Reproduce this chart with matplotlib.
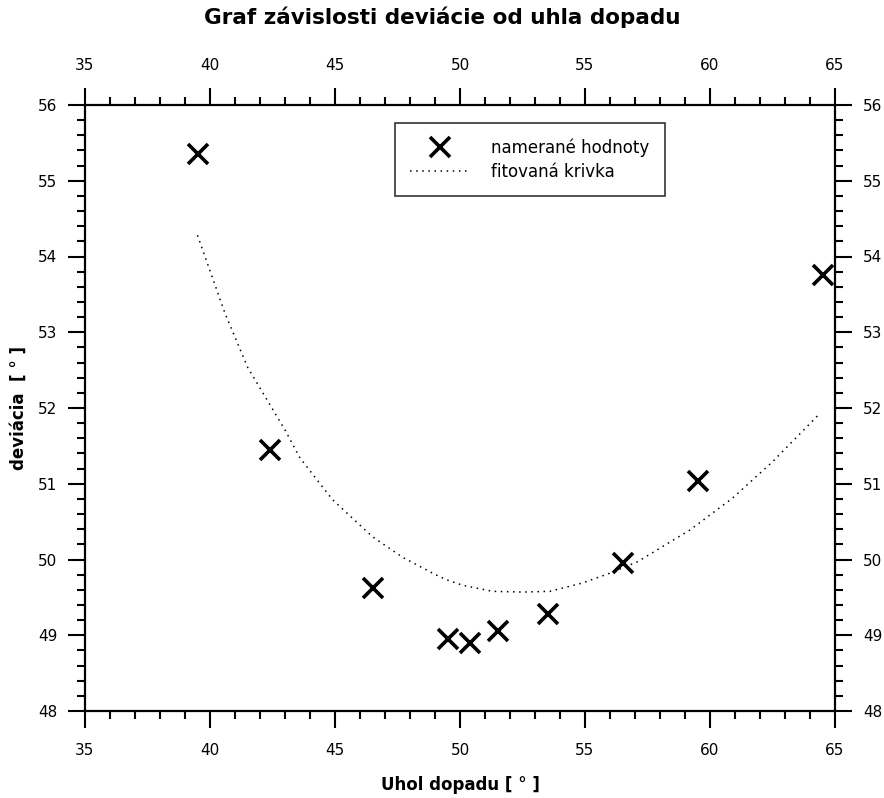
import matplotlib.pyplot as plt
from matplotlib.ticker import MultipleLocator

# measured values
uhol = [39.5, 42.4, 46.5, 49.5, 50.4, 51.5, 53.5, 56.5, 59.5, 64.5]
deviacia = [55.35, 51.45, 49.62, 48.95, 48.9, 49.06, 49.28, 49.95, 51.04, 53.76]

# fitted curve
fit_x = [39.5, 40.6, 41.5, 43.0, 43.6, 44.9, 46.5, 47.7, 48.9, 49.4, 50.1,
         51.3, 52.5, 53.6, 54.9, 56.0, 57.1, 59.2, 60.9, 62.5, 64.4]
fit_y = [54.28, 53.25, 52.54, 51.71, 51.34, 50.79, 50.30, 50.03, 49.82, 49.74, 49.66,
         49.58, 49.57, 49.58, 49.69, 49.82, 49.97, 50.39, 50.81, 51.29, 51.93]

fig = plt.figure(figsize=(8.84, 7.98), dpi=100)
ax = fig.add_axes([85 / 884, 87 / 798, 750 / 884, 606 / 798])

ax.plot(uhol, deviacia, linestyle="none", marker="x", markersize=14,
        markeredgewidth=2.6, color="black", label="namerané hodnoty")
ax.plot(fit_x, fit_y, linestyle=(0, (1, 3)), linewidth=1.1, color="black",
        label="fitovaná krivka")

ax.set_xlim(35, 65)
ax.set_ylim(48, 56)
ax.xaxis.set_major_locator(MultipleLocator(5))
ax.xaxis.set_minor_locator(MultipleLocator(1))
ax.yaxis.set_major_locator(MultipleLocator(1))
ax.yaxis.set_minor_locator(MultipleLocator(0.2))

for s in ax.spines.values():
    s.set_linewidth(1.6)

ax.tick_params(which="both", direction="out", top=True, right=True,
               labeltop=True, labelright=True, width=1.5, labelsize=11)
ax.tick_params(which="major", length=12)
ax.tick_params(which="minor", length=6)
ax.tick_params(axis="x", which="major", pad=11)
ax.tick_params(axis="y", which="major", pad=8)

fig.text(0.5, 1 - 17 / 798, "Graf závislosti deviácie od uhla dopadu",
         fontsize=15.5, fontweight="bold", ha="center", va="center")
ax.set_xlabel("Uhol dopadu [ ° ]", fontsize=12, fontweight="bold", labelpad=13)
ax.set_ylabel("deviácia  [ ° ]", fontsize=12, fontweight="bold", labelpad=7)

leg = ax.legend(loc="upper left", bbox_to_anchor=(0.413, 0.97), fontsize=12,
                frameon=True, fancybox=False, edgecolor="black",
                borderpad=0.9, handlelength=3.6, handletextpad=1.3,
                labelspacing=0.35, borderaxespad=0)
leg.get_frame().set_linewidth(1.2)

fig.savefig("out.png", dpi=100)
